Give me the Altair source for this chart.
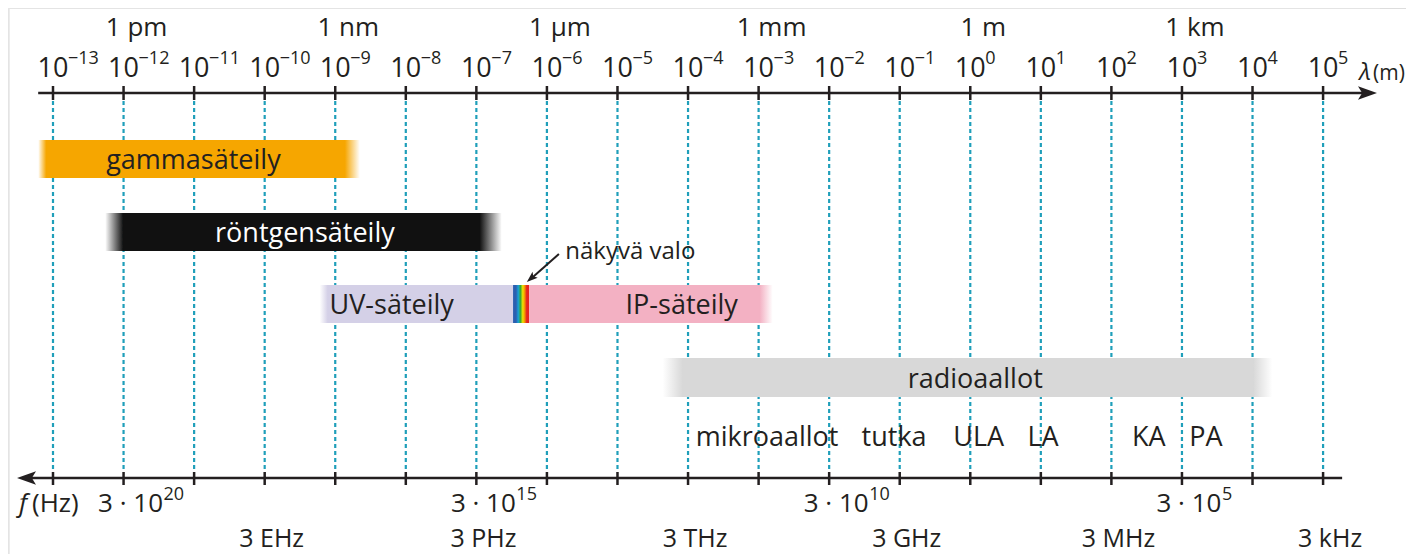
import math
import altair as alt
import pandas as pd

# ---------------- data ----------------
# wavelength axis: powers of ten (metres)
wl_exp = list(range(-13, 6))
unit_names = ["1 pm", "1 nm", "1 µm", "1 mm", "1 m", "1 km"]
unit_exp = [-12, -9, -6, -3, 0, 3]

# frequency axis, f = c / λ
C = 3e8
freq_pow = [20, 15, 10, 5]  # 3·10^n Hz
freq_names = ["3 EHz", "3 PHz", "3 THz", "3 GHz", "3 MHz", "3 kHz"]
freq_values = [3e18, 3e15, 3e12, 3e9, 3e6, 3e3]

# radiation bands (log10 of wavelength in m)
band_names = ["gammasäteily", "röntgensäteily", "UV-säteily", "näkyvä valo", "IP-säteily", "radioaallot"]
band_start = [-13.21, -12.26, -9.22, -6.48, -6.25, -4.36]
band_end = [-8.65, -6.64, -6.48, -6.25, -2.80, 4.28]
band_label_x = [-11.01, -9.43, -8.20, -5.74, -4.09, 0.07]

sub_names = ["mikroaallot", "tutka", "ULA", "LA", "KA", "PA"]
sub_x = [-2.88, -1.08, 0.12, 1.03, 2.53, 3.34]

# axis extents and the "näkyvä valo" pointer (log10 λ)
top_axis = [-13.21, 5.67]
top_tip = 5.764
bottom_axis = [-13.36, 5.27]
bottom_tip = -13.51
pointer_from, pointer_to, pointer_tip = -5.83, -6.23, -6.285

# ---------------- layout / style ----------------
PX = 70.56          # pixels per decade
W, H = 1398, 546
X0 = -13 - (53 - 8) / PX
X1 = X0 + W / PX
xs = alt.Scale(domain=[X0, X1], nice=False, zero=False)
FONT = "Open Sans"
INK = "#231f20"
GUIDE = "#1f9fba"


def Y(page_y):
    return page_y - 8


def X(field="x"):
    return alt.X(f"{field}:Q", scale=xs, axis=None)


band_rgb = [(246, 166, 0), (17, 17, 17), (212, 208, 231), None, (243, 177, 195), (216, 216, 216)]
band_rows = [(140, 178), (213, 251), (285, 323), (285, 323), (285, 323), (358, 397)]
band_fade = [(8, 15), (18, 22), (8, 0), (0, 0), (0, 13), (20, 19)]
band_text_color = [INK, "#ffffff", INK, None, INK, INK]


def gradient(rgb, fl, fr):
    r, g, b = rgb
    solid = f"rgb({r},{g},{b})"
    clear = f"rgba({r},{g},{b},0)"
    stops = []
    if fl > 0:
        stops += [alt.GradientStop(color=clear, offset=0), alt.GradientStop(color=solid, offset=fl)]
    else:
        stops += [alt.GradientStop(color=solid, offset=0)]
    if fr > 0:
        stops += [alt.GradientStop(color=solid, offset=1 - fr), alt.GradientStop(color=clear, offset=1)]
    else:
        stops += [alt.GradientStop(color=solid, offset=1)]
    return alt.LinearGradient(gradient="linear", stops=stops, x1=0, x2=1, y1=0, y2=0)


spectrum = alt.LinearGradient(
    gradient="linear", x1=0, x2=1, y1=0, y2=0,
    stops=[
        alt.GradientStop(color="#2b5fb0", offset=0),
        alt.GradientStop(color="#2b5fb0", offset=0.18),
        alt.GradientStop(color="#17a0d6", offset=0.32),
        alt.GradientStop(color="#3aa935", offset=0.46),
        alt.GradientStop(color="#f3e200", offset=0.6),
        alt.GradientStop(color="#f39200", offset=0.72),
        alt.GradientStop(color="#e52421", offset=0.84),
        alt.GradientStop(color="#e52421", offset=1),
    ],
)

layers = []

# faint page frame (top & left)
frame = pd.DataFrame({"k": [0]})
layers.append(alt.Chart(frame).mark_rule(color="#e6e6e6", strokeWidth=1.5).encode(
    x=alt.value(1), y=alt.value(0), y2=alt.value(H)))
layers.append(alt.Chart(frame).mark_rule(color="#e6e6e6", strokeWidth=1.5).encode(
    x=alt.value(1), x2=alt.value(1372), y=alt.value(0)))

# dashed guide lines
wl_df = pd.DataFrame({"x": wl_exp})
layers.append(alt.Chart(wl_df).mark_rule(color=GUIDE, strokeWidth=2.2, strokeDash=[4, 3]).encode(
    x=X(), y=alt.value(Y(101)), y2=alt.value(Y(472))))

# bands
for i, name in enumerate(band_names):
    df = pd.DataFrame({"x": [band_start[i]], "x2": [band_end[i]]})
    width_px = (band_end[i] - band_start[i]) * PX
    if band_rgb[i] is None:
        fill = spectrum
    else:
        fl, fr = band_fade[i]
        fill = gradient(band_rgb[i], fl / width_px, fr / width_px)
    y0, y1 = band_rows[i]
    layers.append(alt.Chart(df).mark_rect(fill=fill, strokeWidth=0).encode(
        x=X(), x2="x2:Q", y=alt.value(Y(y0)), y2=alt.value(Y(y1))))

# band labels
for i, name in enumerate(band_names):
    if band_text_color[i] is None:
        continue
    y0, y1 = band_rows[i]
    df = pd.DataFrame({"x": [band_label_x[i]], "t": [name]})
    layers.append(alt.Chart(df).mark_text(font=FONT, fontSize=27, color=band_text_color[i],
                                          align="center", baseline="alphabetic").encode(
        x=X(), y=alt.value(Y((y0 + y1) / 2 + 10)), text="t:N"))

# visible light label + pointer
vis_df = pd.DataFrame({"x": [band_label_x[3]], "t": [band_names[3]]})
layers.append(alt.Chart(vis_df).mark_text(font=FONT, fontSize=24, color=INK, align="left",
                                          baseline="alphabetic").encode(
    x=X(), y=alt.value(Y(259)), text="t:N"))
ptr_df = pd.DataFrame({"x": [pointer_from], "x2": [pointer_to]})
layers.append(alt.Chart(ptr_df).mark_rule(color=INK, strokeWidth=2).encode(
    x=X(), x2="x2:Q", y=alt.value(Y(254)), y2=alt.value(Y(279))))
ARROW = "M0,0L-1,-0.36L-0.78,0L-1,0.36Z"
tip_df = pd.DataFrame({"x": [pointer_tip]})
layers.append(alt.Chart(tip_df).mark_point(shape=ARROW, filled=True, size=484, angle=139,
                                           color=INK, opacity=1, strokeWidth=0).encode(
    x=X(), y=alt.value(Y(282))))

# radio sub-bands
sub_df = pd.DataFrame({"x": sub_x, "t": sub_names})
layers.append(alt.Chart(sub_df).mark_text(font=FONT, fontSize=27, color=INK, align="center",
                                          baseline="alphabetic").encode(
    x=X(), y=alt.value(Y(446)), text="t:N"))

# top (wavelength) axis
ta = pd.DataFrame({"x": [top_axis[0]], "x2": [top_axis[1]]})
layers.append(alt.Chart(ta).mark_rule(color=INK, strokeWidth=2.5).encode(
    x=X(), x2="x2:Q", y=alt.value(Y(93))))
layers.append(alt.Chart(pd.DataFrame({"x": [top_tip]})).mark_point(
    shape=ARROW, filled=True, size=1444, angle=0, color=INK, opacity=1, strokeWidth=0).encode(
    x=X(), y=alt.value(Y(93))))
layers.append(alt.Chart(wl_df).mark_rule(color=INK, strokeWidth=2.5).encode(
    x=X(), y=alt.value(Y(86)), y2=alt.value(Y(100))))

# wavelength tick labels 10^n
wl_lab = pd.DataFrame({"x": wl_exp, "base": ["10"] * len(wl_exp),
                       "sup": [str(e).replace("-", "\u2212") for e in wl_exp]})
layers.append(alt.Chart(wl_lab).mark_text(font=FONT, fontSize=27, color=INK, align="center",
                                          baseline="alphabetic").encode(
    x=X(), y=alt.value(Y(77)), text="base:N"))
layers.append(alt.Chart(wl_lab).mark_text(font=FONT, fontSize=18, color=INK, align="left",
                                          baseline="alphabetic", dx=15).encode(
    x=X(), y=alt.value(Y(64)), text="sup:N"))

unit_df = pd.DataFrame({"x": unit_exp, "t": unit_names})
layers.append(alt.Chart(unit_df).mark_text(font=FONT, fontSize=26, color=INK, align="center",
                                           baseline="alphabetic", dx=13).encode(
    x=X(), y=alt.value(Y(36)), text="t:N"))

# λ (m)
lam = pd.DataFrame({"x": [wl_exp[-1]]})
layers.append(alt.Chart(lam).mark_text(font=FONT, fontSize=24, fontStyle="italic", color=INK,
                                       align="center", baseline="alphabetic", dx=42, text="λ").encode(
    x=X(), y=alt.value(Y(80))))
layers.append(alt.Chart(lam).mark_text(font=FONT, fontSize=21, color=INK, align="left",
                                       baseline="alphabetic", dx=50, text="(m)").encode(
    x=X(), y=alt.value(Y(80))))

# bottom (frequency) axis
ba = pd.DataFrame({"x": [bottom_axis[0]], "x2": [bottom_axis[1]]})
layers.append(alt.Chart(ba).mark_rule(color=INK, strokeWidth=2.5).encode(
    x=X(), x2="x2:Q", y=alt.value(Y(478))))
layers.append(alt.Chart(pd.DataFrame({"x": [bottom_tip]})).mark_point(
    shape=ARROW, filled=True, size=1444, angle=180, color=INK, opacity=1, strokeWidth=0).encode(
    x=X(), y=alt.value(Y(478))))
layers.append(alt.Chart(wl_df).mark_rule(color=INK, strokeWidth=2.5).encode(
    x=X(), y=alt.value(Y(472)), y2=alt.value(Y(485))))

fq = pd.DataFrame({"x": [math.log10(C / (3 * 10 ** n)) for n in freq_pow],
                   "base": ["3 · 10"] * len(freq_pow), "sup": [str(n) for n in freq_pow]})
layers.append(alt.Chart(fq).mark_text(font=FONT, fontSize=26, color=INK, align="center",
                                      baseline="alphabetic", dx=7).encode(
    x=X(), y=alt.value(Y(512)), text="base:N"))
layers.append(alt.Chart(fq).mark_text(font=FONT, fontSize=18, color=INK, align="left",
                                      baseline="alphabetic", dx=40).encode(
    x=X(), y=alt.value(Y(500)), text="sup:N"))

fn = pd.DataFrame({"x": [math.log10(C / f) for f in freq_values], "t": freq_names})
layers.append(alt.Chart(fn).mark_text(font=FONT, fontSize=25, color=INK, align="center",
                                      baseline="alphabetic", dx=7).encode(
    x=X(), y=alt.value(Y(546.5)), text="t:N"))

fl = pd.DataFrame({"x": [wl_exp[0]]})
layers.append(alt.Chart(fl).mark_text(font=FONT, fontSize=26, fontStyle="italic", color=INK,
                                      align="center", baseline="alphabetic", dx=-30, text="f").encode(
    x=X(), y=alt.value(Y(512))))
layers.append(alt.Chart(fl).mark_text(font=FONT, fontSize=26, color=INK, align="left",
                                      baseline="alphabetic", dx=-21, text="(Hz)").encode(
    x=X(), y=alt.value(Y(512))))

chart = alt.layer(*layers).properties(
    width=W, height=H, autosize=alt.AutoSizeParams(type="none"), padding=0
).configure_view(stroke=None).configure(background="white")

chart.save("out.html", embed_options={"renderer": "svg", "actions": False})
